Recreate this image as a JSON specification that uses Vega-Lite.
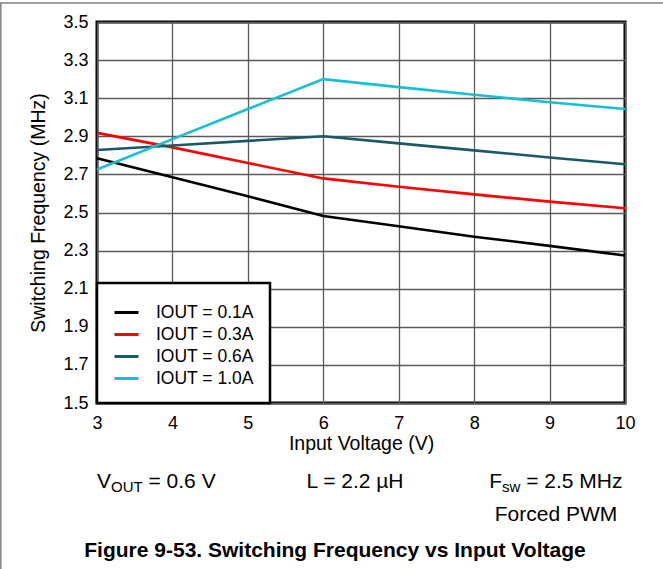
{
  "$schema": "https://vega.github.io/schema/vega-lite/v6.json",
  "width": 528,
  "height": 381,
  "autosize": {"type": "none"},
  "padding": {"left": 97, "top": 22, "right": 38, "bottom": 166},
  "background": "white",
  "config": {
    "font": "Liberation Sans",
    "view": {"stroke": "#000000", "strokeWidth": 3},
    "legend": {"strokeWidth": 2.5},
    "axis": {"labelColor": "#000000", "titleColor": "#000000", "gridColor": "#5a5a5a", "gridWidth": 1.3, "gridOpacity": 1, "domain": false, "ticks": false, "labelFont": "Liberation Sans", "titleFont": "Liberation Sans", "titleFontWeight": "normal", "labelOverlap": false, "labelFlush": false, "labelFontSize": 18, "titleFontSize": 19.5},
    "axisX": {"labelPadding": 11, "titlePadding": 2},
    "axisY": {"labelPadding": 9, "titlePadding": 14}
  },
  "datasets": {
    "curves": [
      {"v": 3, "f": 2.785, "s": "IOUT = 0.1A"},
      {"v": 4, "f": 2.685, "s": "IOUT = 0.1A"},
      {"v": 5, "f": 2.585, "s": "IOUT = 0.1A"},
      {"v": 6, "f": 2.482, "s": "IOUT = 0.1A"},
      {"v": 7, "f": 2.428, "s": "IOUT = 0.1A"},
      {"v": 8, "f": 2.373, "s": "IOUT = 0.1A"},
      {"v": 9, "f": 2.325, "s": "IOUT = 0.1A"},
      {"v": 10, "f": 2.274, "s": "IOUT = 0.1A"},
      {"v": 3, "f": 2.918, "s": "IOUT = 0.3A"},
      {"v": 4, "f": 2.842, "s": "IOUT = 0.3A"},
      {"v": 5, "f": 2.76, "s": "IOUT = 0.3A"},
      {"v": 6, "f": 2.679, "s": "IOUT = 0.3A"},
      {"v": 7, "f": 2.635, "s": "IOUT = 0.3A"},
      {"v": 8, "f": 2.595, "s": "IOUT = 0.3A"},
      {"v": 9, "f": 2.557, "s": "IOUT = 0.3A"},
      {"v": 10, "f": 2.522, "s": "IOUT = 0.3A"},
      {"v": 3, "f": 2.828, "s": "IOUT = 0.6A"},
      {"v": 4, "f": 2.852, "s": "IOUT = 0.6A"},
      {"v": 5, "f": 2.876, "s": "IOUT = 0.6A"},
      {"v": 6, "f": 2.9, "s": "IOUT = 0.6A"},
      {"v": 7, "f": 2.863, "s": "IOUT = 0.6A"},
      {"v": 8, "f": 2.826, "s": "IOUT = 0.6A"},
      {"v": 9, "f": 2.789, "s": "IOUT = 0.6A"},
      {"v": 10, "f": 2.753, "s": "IOUT = 0.6A"},
      {"v": 3, "f": 2.726, "s": "IOUT = 1.0A"},
      {"v": 4, "f": 2.885, "s": "IOUT = 1.0A"},
      {"v": 5, "f": 3.043, "s": "IOUT = 1.0A"},
      {"v": 6, "f": 3.2, "s": "IOUT = 1.0A"},
      {"v": 7, "f": 3.158, "s": "IOUT = 1.0A"},
      {"v": 8, "f": 3.118, "s": "IOUT = 1.0A"},
      {"v": 9, "f": 3.079, "s": "IOUT = 1.0A"},
      {"v": 10, "f": 3.043, "s": "IOUT = 1.0A"}
    ],
    "one": [{}]
  },
  "layer": [
    {
      "data": {"name": "curves"},
      "mark": {"type": "line", "strokeWidth": 2.6},
      "encoding": {
        "x": {"field": "v", "type": "quantitative", "scale": {"domain": [3, 10], "nice": false, "zero": false},
              "title": "Input Voltage (V)", "axis": {"values": [3, 4, 5, 6, 7, 8, 9, 10], "format": "d"}},
        "y": {"field": "f", "type": "quantitative", "scale": {"domain": [1.5, 3.5], "nice": false, "zero": false},
              "title": "Switching Frequency (MHz)", "axis": {"values": [1.5, 1.7, 1.9, 2.1, 2.3, 2.5, 2.7, 2.9, 3.1, 3.3, 3.5], "format": ".1f"}},
        "color": {"field": "s", "type": "nominal",
                  "scale": {"domain": ["IOUT = 0.1A", "IOUT = 0.3A", "IOUT = 0.6A", "IOUT = 1.0A"], "range": ["#000000", "#ff0000", "#1a5868", "#17bfd2"]},
                  "legend": {"title": null, "orient": "bottom-left", "offset": 0, "padding": 16, "fillColor": "#ffffff", "strokeColor": "#000000", "symbolType": "stroke", "symbolSize": 576, "symbolStrokeWidth": 3, "labelFontSize": 17.5, "labelColor": "#000000", "labelOffset": 16, "rowPadding": -2}}
      }
    },
    {
      "data": {"name": "one"},
      "mark": {"type": "rule", "color": "#7f7f7f", "strokeWidth": 1.5, "clip": false},
      "encoding": {
        "x": {"datum": 1.71, "type": "quantitative", "title": "Input Voltage (V)", "axis": {"values": [3, 4, 5, 6, 7, 8, 9, 10], "format": "d"}},
        "x2": {"datum": 11.5},
        "y": {"datum": 3.6, "type": "quantitative", "title": "Switching Frequency (MHz)", "axis": {"values": [1.5, 1.7, 1.9, 2.1, 2.3, 2.5, 2.7, 2.9, 3.1, 3.3, 3.5], "format": ".1f"}}
      }
    },
    {
      "data": {"name": "one"},
      "mark": {"type": "rule", "color": "#7f7f7f", "strokeWidth": 1.5, "clip": false},
      "encoding": {
        "x": {"datum": 1.725, "type": "quantitative", "title": "Input Voltage (V)", "axis": {"values": [3, 4, 5, 6, 7, 8, 9, 10], "format": "d"}},
        "y": {"datum": 3.6, "type": "quantitative", "title": "Switching Frequency (MHz)", "axis": {"values": [1.5, 1.7, 1.9, 2.1, 2.3, 2.5, 2.7, 2.9, 3.1, 3.3, 3.5], "format": ".1f"}},
        "y2": {"datum": 0.4}
      }
    },
    {
      "data": {"name": "one"},
      "mark": {"type": "text", "align": "left", "baseline": "alphabetic", "fontSize": 21, "color": "#000000"},
      "encoding": {
        "x": {"datum": 3, "type": "quantitative", "title": "Input Voltage (V)", "axis": {"values": [3, 4, 5, 6, 7, 8, 9, 10], "format": "d"}},
        "y": {"datum": 1.054, "type": "quantitative", "title": "Switching Frequency (MHz)", "axis": {"values": [1.5, 1.7, 1.9, 2.1, 2.3, 2.5, 2.7, 2.9, 3.1, 3.3, 3.5], "format": ".1f"}},
        "text": {"value": "V"}}
    },
    {
      "data": {"name": "one"},
      "mark": {"type": "text", "align": "left", "baseline": "alphabetic", "fontSize": 15, "dx": 14, "dy": 4, "color": "#000000"},
      "encoding": {
        "x": {"datum": 3, "type": "quantitative", "title": "Input Voltage (V)", "axis": {"values": [3, 4, 5, 6, 7, 8, 9, 10], "format": "d"}},
        "y": {"datum": 1.054, "type": "quantitative", "title": "Switching Frequency (MHz)", "axis": {"values": [1.5, 1.7, 1.9, 2.1, 2.3, 2.5, 2.7, 2.9, 3.1, 3.3, 3.5], "format": ".1f"}},
        "text": {"value": "OUT"}}
    },
    {
      "data": {"name": "one"},
      "mark": {"type": "text", "align": "left", "baseline": "alphabetic", "fontSize": 21, "dx": 51.5, "color": "#000000"},
      "encoding": {
        "x": {"datum": 3, "type": "quantitative", "title": "Input Voltage (V)", "axis": {"values": [3, 4, 5, 6, 7, 8, 9, 10], "format": "d"}},
        "y": {"datum": 1.054, "type": "quantitative", "title": "Switching Frequency (MHz)", "axis": {"values": [1.5, 1.7, 1.9, 2.1, 2.3, 2.5, 2.7, 2.9, 3.1, 3.3, 3.5], "format": ".1f"}},
        "text": {"value": "= 0.6 V"}}
    },
    {
      "data": {"name": "one"},
      "mark": {"type": "text", "align": "center", "baseline": "alphabetic", "fontSize": 21, "color": "#000000"},
      "encoding": {
        "x": {"datum": 6.42, "type": "quantitative", "title": "Input Voltage (V)", "axis": {"values": [3, 4, 5, 6, 7, 8, 9, 10], "format": "d"}},
        "y": {"datum": 1.054, "type": "quantitative", "title": "Switching Frequency (MHz)", "axis": {"values": [1.5, 1.7, 1.9, 2.1, 2.3, 2.5, 2.7, 2.9, 3.1, 3.3, 3.5], "format": ".1f"}},
        "text": {"value": "L = 2.2 µH"}}
    },
    {
      "data": {"name": "one"},
      "mark": {"type": "text", "align": "left", "baseline": "alphabetic", "fontSize": 21, "color": "#000000"},
      "encoding": {
        "x": {"datum": 8.2, "type": "quantitative", "title": "Input Voltage (V)", "axis": {"values": [3, 4, 5, 6, 7, 8, 9, 10], "format": "d"}},
        "y": {"datum": 1.054, "type": "quantitative", "title": "Switching Frequency (MHz)", "axis": {"values": [1.5, 1.7, 1.9, 2.1, 2.3, 2.5, 2.7, 2.9, 3.1, 3.3, 3.5], "format": ".1f"}},
        "text": {"value": "F"}}
    },
    {
      "data": {"name": "one"},
      "mark": {"type": "text", "align": "left", "baseline": "alphabetic", "fontSize": 15, "dx": 12.8, "dy": 4, "color": "#000000"},
      "encoding": {
        "x": {"datum": 8.2, "type": "quantitative", "title": "Input Voltage (V)", "axis": {"values": [3, 4, 5, 6, 7, 8, 9, 10], "format": "d"}},
        "y": {"datum": 1.054, "type": "quantitative", "title": "Switching Frequency (MHz)", "axis": {"values": [1.5, 1.7, 1.9, 2.1, 2.3, 2.5, 2.7, 2.9, 3.1, 3.3, 3.5], "format": ".1f"}},
        "text": {"value": "sw"}}
    },
    {
      "data": {"name": "one"},
      "mark": {"type": "text", "align": "left", "baseline": "alphabetic", "fontSize": 21, "dx": 36.9, "color": "#000000"},
      "encoding": {
        "x": {"datum": 8.2, "type": "quantitative", "title": "Input Voltage (V)", "axis": {"values": [3, 4, 5, 6, 7, 8, 9, 10], "format": "d"}},
        "y": {"datum": 1.054, "type": "quantitative", "title": "Switching Frequency (MHz)", "axis": {"values": [1.5, 1.7, 1.9, 2.1, 2.3, 2.5, 2.7, 2.9, 3.1, 3.3, 3.5], "format": ".1f"}},
        "text": {"value": "= 2.5 MHz"}}
    },
    {
      "data": {"name": "one"},
      "mark": {"type": "text", "align": "center", "baseline": "alphabetic", "fontSize": 21, "color": "#000000"},
      "encoding": {
        "x": {"datum": 9.085, "type": "quantitative", "title": "Input Voltage (V)", "axis": {"values": [3, 4, 5, 6, 7, 8, 9, 10], "format": "d"}},
        "y": {"datum": 0.883, "type": "quantitative", "title": "Switching Frequency (MHz)", "axis": {"values": [1.5, 1.7, 1.9, 2.1, 2.3, 2.5, 2.7, 2.9, 3.1, 3.3, 3.5], "format": ".1f"}},
        "text": {"value": "Forced PWM"}}
    },
    {
      "data": {"name": "one"},
      "mark": {"type": "text", "align": "center", "baseline": "alphabetic", "fontSize": 21, "fontWeight": "bold", "color": "#000000"},
      "encoding": {
        "x": {"datum": 6.155, "type": "quantitative", "title": "Input Voltage (V)", "axis": {"values": [3, 4, 5, 6, 7, 8, 9, 10], "format": "d"}},
        "y": {"datum": 0.694, "type": "quantitative", "title": "Switching Frequency (MHz)", "axis": {"values": [1.5, 1.7, 1.9, 2.1, 2.3, 2.5, 2.7, 2.9, 3.1, 3.3, 3.5], "format": ".1f"}},
        "text": {"value": "Figure 9-53. Switching Frequency vs Input Voltage"}}
    }
  ]
}
